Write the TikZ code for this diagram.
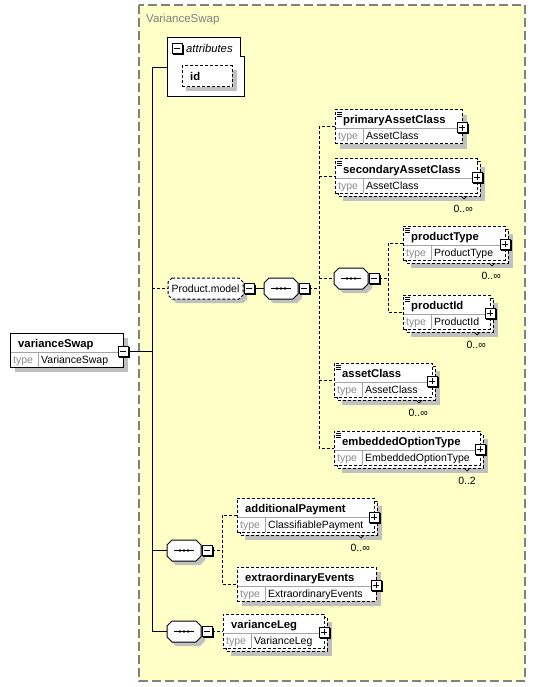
\documentclass[tikz,border=0pt]{standalone}
\usepackage{fontspec}
\setmainfont{Liberation Sans}
\definecolor{bgyellow}{RGB}{255,255,200}
\definecolor{shadowc}{RGB}{192,192,192}
\definecolor{divc}{RGB}{165,165,165}
\definecolor{typec}{RGB}{140,140,140}
\definecolor{framec}{RGB}{128,128,128}
\tikzset{
  sl/.style={line width=1pt,draw=black},
  dl/.style={line width=1pt,draw=black,dash pattern=on 3pt off 2pt},
  ebox/.style={rectangle,draw,fill=white,line width=1pt,inner sep=0pt,outer sep=0pt},
  pmb/.style={rectangle,draw,fill=white,line width=1pt,minimum size=10pt,inner sep=0pt,outer sep=0pt},
  area/.style={rectangle,inner sep=0pt,outer sep=0pt},
  titlef/.style={inner sep=0pt,font=\fontsize{11.3}{13}\selectfont\bfseries},
  valf/.style={inner sep=0pt,font=\fontsize{10.5}{13}\selectfont},
  typef/.style={inner sep=0pt,font=\fontsize{10.5}{13}\selectfont,text=typec},
  multf/.style={inner sep=0pt,font=\fontsize{10.5}{13}\selectfont},
}
\newcommand{\octshape}[6]{%
  \path[#6] ({#1+#5},{#2}) -- ({#3-#5},{#2}) -- ({#3},{#2+#5}) -- ({#3},{#4-#5}) -- ({#3-#5},{#4}) -- ({#1+#5},{#4}) -- ({#1},{#4-#5}) -- ({#1},{#2+#5}) -- cycle;}
\newcommand{\minusbx}[3]{%
  \fill[black] ({#2-4},{#3-4}) rectangle ({#2+6.5},{#3+6.5});
  \node[pmb] (#1) at ({#2},{#3}) {};
  \draw[line width=1pt] ({#2-3},{#3}) -- ({#2+3},{#3});}
\newcommand{\plusbx}[3]{%
  \fill[black] ({#2-4},{#3-4}) rectangle ({#2+6.5},{#3+6.5});
  \node[pmb] (#1) at ({#2},{#3}) {};
  \draw[line width=1pt] ({#2-3},{#3}) -- ({#2+3},{#3}) ({#2},{#3-3}) -- ({#2},{#3+3});}
\newcommand{\seqc}[3]{%
  \octshape{#2+4}{#3+4}{#2+38}{#3+25}{5}{fill=shadowc}
  \octshape{#2}{#3}{#2+34}{#3+21}{5}{draw,fill=white,line width=1pt}
  \node[area,minimum width=34pt,minimum height=21pt] (#1) at ({#2+17},{#3+10.5}) {};
  \draw[line width=1pt] ([xshift=-10pt]#1.center) -- ([xshift=10pt]#1.center);
  \foreach \dx in {-4,0,4} \fill ([xshift=\dx pt]#1.center) circle (1.4pt);
  \minusbx{#1-m}{#2+40}{#3+10.5}}
\newcommand{\elem}[9]{%
  \ifnum#8=1
    \fill[shadowc] ({#2+8},{#3+8}) rectangle ({#2+#4+8},{#3+42});
    \draw[#7,fill=white] ({#2+3},{#3+3}) rectangle ({#2+#4+3},{#3+37});
  \else
    \fill[shadowc] ({#2+5},{#3+5}) rectangle ({#2+#4+5},{#3+39});
  \fi
  \node[ebox,#7,minimum width=#4pt,minimum height=34pt,anchor=north west] (#1) at ({#2},{#3}) {};
  \draw[divc,line width=1pt] ({#2+0.5},{#3+19}) -- ({#2+#4-0.5},{#3+19});
  \draw[divc,line width=1pt] ({#2+28},{#3+19}) -- ({#2+28},{#3+33.5});
  \node[titlef,anchor=base west] (#1-t) at ({#2+8},{#3+14}) {#5};
  \node[typef,anchor=base west] (#1-k) at ({#2+3},{#3+30}) {type};
  \node[valf,anchor=base west] (#1-v) at ({#2+31},{#3+30}) {#6};
  \ifnum#9=1
    \draw[line width=0.7pt] ({#2+2},{#3+2.5}) -- ({#2+7},{#3+2.5}) ({#2+2},{#3+4.5}) -- ({#2+7},{#3+4.5}) ({#2+2},{#3+6.5}) -- ({#2+7},{#3+6.5});
  \fi}
\newcommand{\mult}[3]{%
  \node[multf,anchor=base east] (#1) at ([shift={(-4pt,-19pt)}]#2.south east) {#3};
  \draw[line width=0.7pt] ([shift={(-16pt,-3pt)}]#2.south east) -- ++(3pt,-3pt) -- ++(3pt,3pt);}
\begin{document}
\begin{tikzpicture}[x=1pt,y=-1pt]
\useasboundingbox (0,0) rectangle (536,687);
% container
\draw[framec,line width=1.2pt,dash pattern=on 9pt off 4pt,fill=bgyellow] (139,5) rectangle (525,681);
\node[inner sep=0pt,text=framec,font=\fontsize{11.5}{13}\selectfont,anchor=base west] (ct) at (146,23) {VarianceSwap};
% attributes
\node[area,minimum width=77pt,minimum height=59pt,anchor=north west] (att) at (167,38) {};
\draw[sl,fill=white] (167,38) -- (240,38) -- (240,57) -- (244,57) -- (244,97) -- (167,97) -- cycle;
\minusbx{att-m}{177}{49}
\node[inner sep=0pt,font=\fontsize{11.3}{13}\selectfont\itshape,anchor=base west] (att-t) at (186,53) {attributes};
\fill[shadowc] (186,70) rectangle (237,91);
\node[ebox,dl,minimum width=50pt,minimum height=21pt,anchor=north west] (id) at (182,66) {};
\node[titlef,anchor=base west] (id-t) at (190,81) {id};
% root element
\elem{vs}{10}{333}{113}{varianceSwap}{VarianceSwap}{sl}{0}{0}
\minusbx{vs-m}{123}{351}
% group Product.model
\octshape{172}{282}{247}{303}{4}{fill=shadowc}
\octshape{168}{278}{243}{299}{4}{dl,fill=white}
\node[area,minimum width=75pt,minimum height=21pt] (pm) at (205.5,288.5) {};
\node[valf] (pm-t) at (205.5,288.5) {Product.model};
\minusbx{pm-m}{249}{288.5}
% sequences
\seqc{s1}{264}{278}
\seqc{s2}{334}{268}
\seqc{s3}{167}{540}
\seqc{s4}{167}{621}
% elements
\elem{pac}{335}{110}{127}{primaryAssetClass}{AssetClass}{dl}{0}{1}
\plusbx{pac-p}{462}{128}
\elem{sac}{335}{159}{142}{secondaryAssetClass}{AssetClass}{dl}{1}{1}
\plusbx{sac-p}{477}{177}
\mult{sac-n}{sac}{0..∞}
\elem{pt}{403}{226}{102}{productType}{ProductType}{dl}{1}{1}
\plusbx{pt-p}{505}{244}
\mult{pt-n}{pt}{0..∞}
\elem{pid}{403}{295}{87}{productId}{ProductId}{dl}{1}{1}
\plusbx{pid-p}{490}{313}
\mult{pid-n}{pid}{0..∞}
\elem{ac}{334}{363}{98}{assetClass}{AssetClass}{dl}{1}{1}
\plusbx{ac-p}{432}{381}
\mult{ac-n}{ac}{0..∞}
\elem{eot}{334}{431}{146}{embeddedOptionType}{EmbeddedOptionType}{dl}{1}{1}
\plusbx{eot-p}{480}{449}
\mult{eot-n}{eot}{0..2}
\elem{ap}{237}{498}{137}{additionalPayment}{ClassifiablePayment}{dl}{1}{0}
\plusbx{ap-p}{374}{517}
\mult{ap-n}{ap}{0..∞}
\elem{ee}{237}{567}{139}{extraordinaryEvents}{ExtraordinaryEvents}{dl}{0}{0}
\plusbx{ee-p}{376}{585}
\elem{vl}{223}{614}{101}{varianceLeg}{VarianceLeg}{dl}{1}{0}
\plusbx{vl-p}{324}{632}
% bus coordinates
\coordinate (b0) at (152,0);
\coordinate (b1) at (319,0);
\coordinate (b2) at (388,0);
\coordinate (b3) at (222,0);
% connectors
\draw[sl] (att.west) -- (att.west -| b0) -- (s4.west -| b0) -- (s4.west);
\draw[sl] (vs-m.east) -- (vs-m.east -| b0);
\draw[dl] (pm.west -| b0) -- (pm.west);
\draw[sl] (s3.west -| b0) -- (s3.west);
\draw[sl] (pm-m.east) -- (s1.west);
\draw[dl] (s1-m.east) -- (s1-m.east -| b1);
\draw[dl] (pac.west) -- (pac.west -| b1) -- (eot.west -| b1) -- (eot.west);
\draw[dl] (sac.west -| b1) -- (sac.west);
\draw[dl] (ac.west -| b1) -- (ac.west);
\draw[dl] (s2.west -| b1) -- (s2.west);
\draw[dl] (s2-m.east) -- (s2-m.east -| b2);
\draw[dl] (pt.west) -- (pt.west -| b2) -- (pid.west -| b2) -- (pid.west);
\draw[dl] (s3-m.east) -- (s3-m.east -| b3);
\draw[dl] (ap.west) -- (ap.west -| b3) -- (ee.west -| b3) -- (ee.west);
\draw[dl] (s4-m.east) -- (s4-m.east -| vl.west);
\end{tikzpicture}
\end{document}
